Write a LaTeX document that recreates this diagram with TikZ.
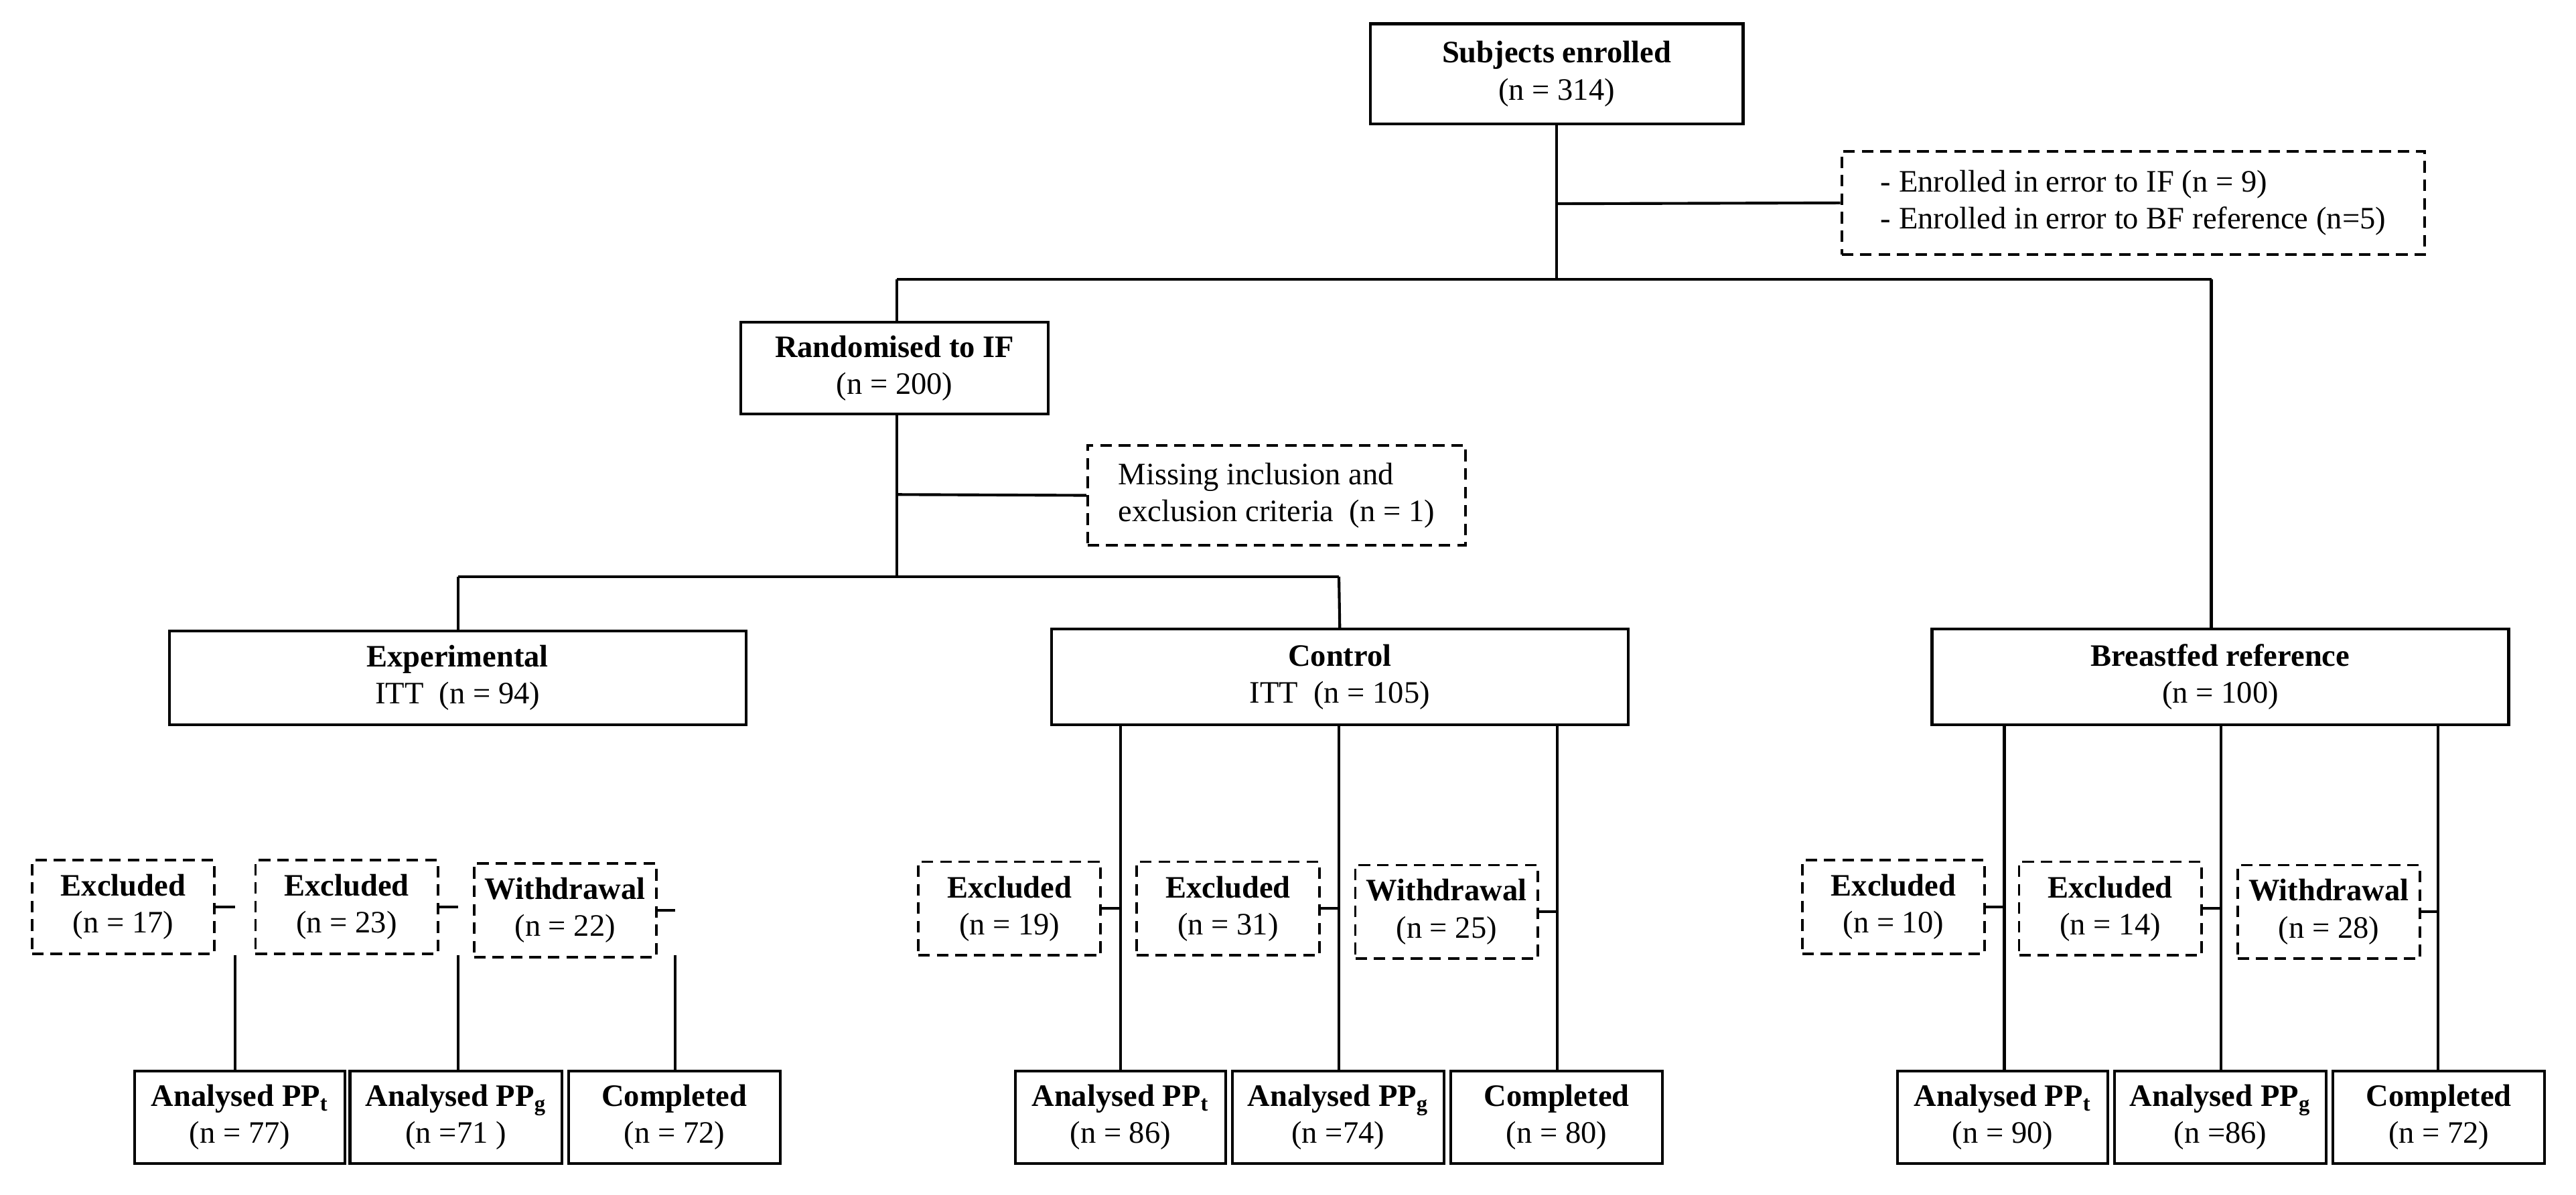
\documentclass[tikz,border=0pt]{standalone}
\usepackage{fontspec}
\setmainfont{Liberation Serif}
\begin{document}
\begin{tikzpicture}[x=0.025cm,y=-0.025cm,
  every node/.style={font=\fontsize{13.5}{16}\selectfont},
  box/.style={draw,line width=1.2pt,align=center,inner sep=0pt},
  dbox/.style={draw,line width=1.1pt,dashed,dash pattern=on 5pt off 3pt,align=center,inner sep=0pt},
  ln/.style={line width=1.2pt}]
\useasboundingbox (0,0) rectangle (1568,727);
% main boxes
\node[box,minimum width=227*0.025cm,minimum height=61*0.025cm] (se) at (947.5,45) {\textbf{Subjects enrolled}\\(n = 314)};
\node[dbox,minimum width=355*0.025cm,minimum height=63*0.025cm,align=left] (err) at (1298.5,123.5) {- Enrolled in error to IF (n = 9)\\- Enrolled in error to BF reference (n=5)};
\node[box,minimum width=187*0.025cm,minimum height=56*0.025cm] (ri) at (544.5,224) {\textbf{Randomised to IF}\\(n = 200)};
\node[dbox,minimum width=230*0.025cm,minimum height=61*0.025cm,align=left] (mi) at (777,301.5) {Missing inclusion and\\exclusion criteria\ \ (n = 1)};
\node[box,minimum width=351*0.025cm,minimum height=57*0.025cm] (ex) at (278.5,412.5) {\textbf{Experimental}\\ITT\ \ (n = 94)};
\node[box,minimum width=351*0.025cm,minimum height=58*0.025cm] (co) at (815.5,412) {\textbf{Control}\\ITT\ \ (n = 105)};
\node[box,minimum width=351*0.025cm,minimum height=58*0.025cm] (bf) at (1351.5,412) {\textbf{Breastfed reference}\\(n = 100)};
% connectors top
\coordinate (j1) at (947.5,124);
\coordinate (j2) at (947.5,170);
\coordinate (lj) at (546,170);
\coordinate (rj) at (1346,170);
\draw[ln] (se.south) -- (j2);
\draw[ln] (j1) -- (err.west);
\draw[ln] (lj) -- (rj);
\draw[ln] (lj) -- (ri.north -| lj);
\draw[ln] (rj) -- (bf.north -| rj);
\coordinate (k1) at (546,301);
\coordinate (k2) at (546,351);
\coordinate (kl) at (279,351);
\coordinate (kr) at (815,351);
\draw[ln] (ri.south -| k1) -- (k2);
\draw[ln] (k1) -- (mi.west);
\draw[ln] (kl) -- (kr);
\draw[ln] (kl) -- (ex.north -| kl);
\draw[ln] (kr) -- (co.north);
% lower groups
\foreach \p/\pp/\va/\vb/\vc/\ba/\bb/\bc/\da/\db/\dc/\ea/\eb/\ec/\na/\nb/\nc/\ma/\mb/\mc in {
 e/ex/143/279/411/146/277.5/410.5/75/211/344/77/71\ /72/17/23/22/552/552/554,
 c/co/682/815/948/682/814.5/947.5/614.5/747.5/880.5/86/74/80/19/31/25/553/553/555,
 b/bf/1220/1352/1484/1219/1351.5/1484.5/1152.5/1284.5/1417.5/90/86/72/10/14/28/552/553/555}{
  \node[box,minimum width=128*0.025cm,minimum height=56*0.025cm] (\p a) at (\ba,680) {\textbf{Analysed PP\textsubscript{t}}\\(n = \ea)};
  \node[box,minimum width=129*0.025cm,minimum height=56*0.025cm] (\p b) at (\bb,680) {\textbf{Analysed PP\textsubscript{g}}\\(n =\eb)};
  \node[box,minimum width=129*0.025cm,minimum height=56*0.025cm] (\p c) at (\bc,680) {\textbf{Completed}\\(n = \ec)};
  \node[dbox,minimum width=111*0.025cm,minimum height=57*0.025cm] (\p x) at (\da,\ma) {\textbf{Excluded}\\(n = \na)};
  \node[dbox,minimum width=111*0.025cm,minimum height=57*0.025cm] (\p y) at (\db,\mb) {\textbf{Excluded}\\(n = \nb)};
  \node[dbox,minimum width=111*0.025cm,minimum height=57*0.025cm] (\p z) at (\dc,\mc) {\textbf{Withdrawal}\\(n = \nc)};
  \coordinate (\p1) at (\va,680); \coordinate (\p2) at (\vb,680); \coordinate (\p3) at (\vc,680);
  \draw[ln] (\pp.south -| \p1) -- (\p a.north -| \p1);
  \draw[ln] (\pp.south -| \p2) -- (\p b.north -| \p2);
  \draw[ln] (\pp.south -| \p3) -- (\p c.north -| \p3);
  \draw[ln] (\p x.east) -- (\p x.east -| \p1);
  \draw[ln] (\p y.east) -- (\p y.east -| \p2);
  \draw[ln] (\p z.east) -- (\p z.east -| \p3);
}
\end{tikzpicture}
\end{document}
